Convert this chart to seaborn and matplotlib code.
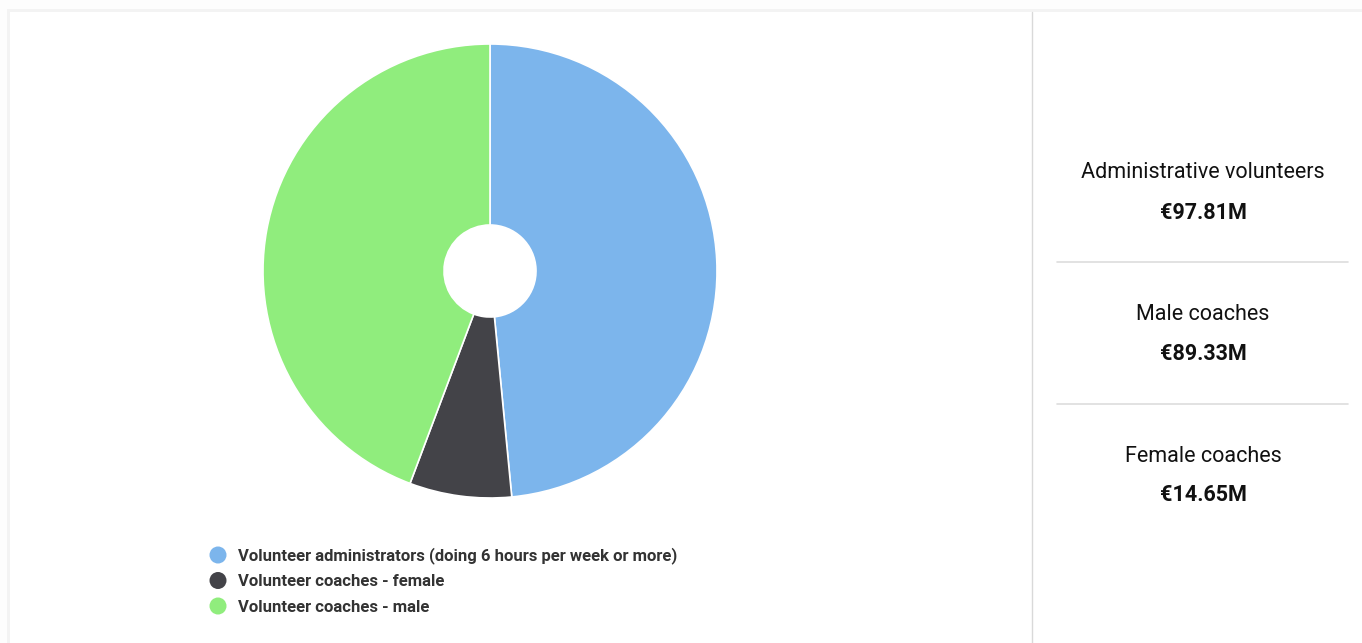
import matplotlib
matplotlib.use("Agg")
import matplotlib.pyplot as plt
from matplotlib.patches import Rectangle
import seaborn as sns

categories = ["Volunteer administrators (doing 6 hours per week or more)",
              "Volunteer coaches - female",
              "Volunteer coaches - male"]
values = [97.81, 14.65, 89.33]
colors = ["#7cb5ec", "#434348", "#90ed7d"]

panel_labels = ["Administrative volunteers", "Male coaches", "Female coaches"]
panel_values = ["€97.81M", "€89.33M", "€14.65M"]

sns.set_theme(style="white")
plt.rcParams['font.family'] = ['Roboto', 'DejaVu Sans']

W, H = 1362, 643
fig = plt.figure(figsize=(W / 100, H / 100), dpi=100)
fig.patch.set_facecolor("#fdfdfd")

# card background
bg = fig.add_axes([0, 0, 1, 1])
bg.set_xlim(0, W)
bg.set_ylim(H, 0)
bg.axis("off")
bg.add_patch(Rectangle((7, 9), W, H, facecolor="#f3f3f3", edgecolor="none"))
bg.add_patch(Rectangle((10, 12), W, H, facecolor="white", edgecolor="none"))
bg.plot([1032, 1032], [12, H], color="#d9d9d9", lw=1)
for yy in [262, 404]:
    bg.plot([1057, 1348], [yy, yy], color="#dddddd", lw=1.2)

# pie
cx, cy, r = 490, 271, 227
ax = fig.add_axes([(cx - r) / W, (H - cy - r) / H, 2 * r / W, 2 * r / H])
palette = sns.color_palette(colors)
ax.pie(values, colors=palette, startangle=90, counterclock=False, radius=1,
       wedgeprops=dict(width=1 - 46 / 227, edgecolor="white", linewidth=1.2))
ax.set_xlim(-1, 1)
ax.set_ylim(-1, 1)
ax.set_aspect("equal")
ax.axis("off")

# legend
for i, (lab, col) in enumerate(zip(categories, palette)):
    yy = 556 + i * 25.5
    bg.scatter([218], [yy - 1], s=150, color=col, edgecolors="none")
    bg.text(238, yy, lab, fontsize=12, fontweight="bold", color="#333333",
            va="center", ha="left")

# right panel
ys = [(172, 213), (315, 354), (457, 495)]
for (y1, y2), lab, val in zip(ys, panel_labels, panel_values):
    bg.text(1203, y1, lab, fontsize=15.5, color="#111111", ha="center", va="center")
    bg.text(1203, y2, val, fontsize=15.5, fontweight="bold", color="#111111",
            ha="center", va="center")

fig.savefig("out.png", dpi=100)
